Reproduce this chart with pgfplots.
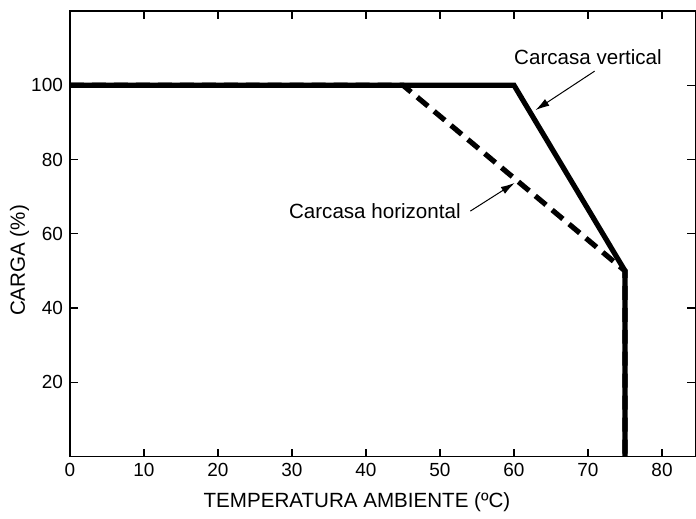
\documentclass[border=0pt]{standalone}
\usepackage{fontspec}
\setmainfont{Liberation Sans}
\usepackage{pgfplots}
\pgfplotsset{compat=1.18}
\usetikzlibrary{arrows.meta}

\begin{document}
\begin{tikzpicture}
\begin{axis}[
    scale only axis,
    width=313pt, height=223pt,
    xmin=0, xmax=84.5, ymin=0, ymax=120,
    xtick={0,10,...,80},
    ytick={20,40,...,100},
    tick align=inside,
    major tick length=4pt,
    axis line style={line width=0.7pt},
    every tick/.style={black, line width=0.7pt},
    tick label style={font=\fontsize{9.5}{11}\selectfont},
    /pgf/number format/assume math mode=true,
    xlabel={TEMPERATURA AMBIENTE (ºC)},
    ylabel={CARGA (\%)},
    label style={font=\fontsize{10.3}{12}\selectfont},
    x label style={at={([yshift=-25.5pt]axis description cs:0.459,0)}, anchor=base},
    y label style={at={([xshift=-22.5pt]axis description cs:0,0.44)}, anchor=base},
    clip=false,
]
% Carcasa vertical
\addplot[black, line width=2.6pt, line join=miter] coordinates {
    (0,100) (60,100) (75,50) (75,0)
};
% Carcasa horizontal
\addplot[black, line width=2.6pt, dash pattern=on 7pt off 4pt] coordinates {
    (0,100) (45,100) (75,50) (75,0)
};
\node[font=\fontsize{10.3}{12}\selectfont] at (axis cs:70,107.7) {Carcasa vertical};
\draw[-{Latex[length=7pt,width=4pt]}, line width=0.5pt] (axis cs:70.9,103.8) -- (axis cs:62.9,93.3);
\node[font=\fontsize{10.3}{12}\selectfont] at (axis cs:41.2,66.1) {Carcasa horizontal};
\draw[-{Latex[length=7pt,width=4pt]}, line width=0.5pt] (axis cs:54.1,66.1) -- (axis cs:60.1,73.7);
% page margins as in the reference
\path (rel axis cs:0,1) -- ++(-35pt,5.5pt);
\path (rel axis cs:0,0) -- ++(0,-29pt);
\end{axis}
\end{tikzpicture}
\end{document}
